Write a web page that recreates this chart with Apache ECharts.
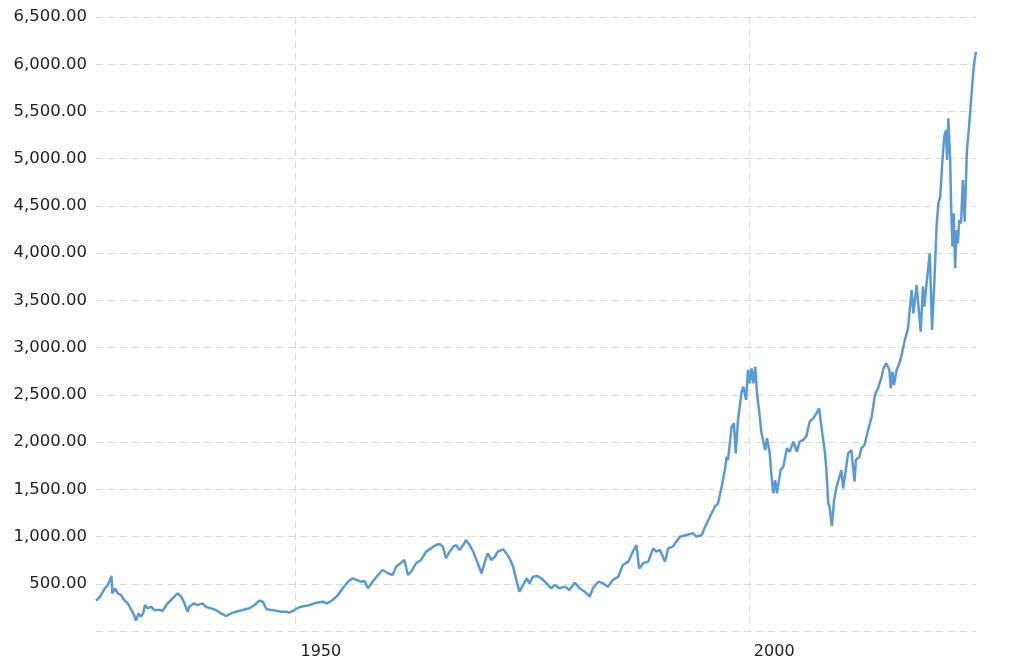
<!DOCTYPE html>
<html>
<head>
<meta charset="utf-8">
<script src="https://cdn.jsdelivr.net/npm/echarts@6/dist/echarts.min.js"></script>
<style>
  html, body { margin: 0; padding: 0; background: #fff; }
  #chart { width: 1024px; height: 671px; }
</style>
</head>
<body>
<div id="chart"></div>
<script>
// Decimal years of each reading
const years = [
  1928.0, 1928.4, 1928.9, 1929.3, 1929.55, 1929.7, 1929.8, 1930.1, 1930.4, 1930.75,
  1931.1, 1931.5, 1931.9, 1932.2, 1932.4, 1932.7, 1932.95, 1933.2, 1933.4, 1933.7,
  1934.1, 1934.4, 1935.0, 1935.35, 1935.9, 1936.45, 1937.0, 1937.4, 1937.75, 1938.1,
  1938.3, 1938.8, 1939.2, 1939.75, 1940.1, 1940.7, 1941.2, 1941.8, 1942.35, 1942.9,
  1943.45, 1944.2, 1944.9, 1945.5, 1946.0, 1946.4, 1946.8, 1947.3, 1947.9, 1948.4,
  1949.0, 1949.3, 1949.9, 1950.4, 1951.0, 1951.6, 1952.3, 1953.0, 1953.5, 1954.1,
  1954.7, 1955.2, 1955.8, 1956.3, 1956.7, 1957.25, 1957.6, 1958.0, 1958.5, 1959.1,
  1959.6, 1960.2, 1960.7, 1961.1, 1961.65, 1962.0, 1962.4, 1962.75, 1963.3, 1963.85,
  1964.4, 1964.95, 1965.5, 1965.9, 1966.25, 1966.6, 1967.0, 1967.4, 1967.7, 1968.1,
  1968.5, 1968.8, 1969.2, 1969.6, 1970.1, 1970.5, 1971.0, 1971.2, 1971.6, 1972.0,
  1972.3, 1972.9, 1973.25, 1973.6, 1974.0, 1974.35, 1974.7, 1975.1, 1975.5, 1975.8,
  1976.2, 1976.7, 1977.1, 1977.7, 1978.2, 1978.6, 1979.1, 1979.7, 1980.2, 1980.8,
  1981.35, 1981.9, 1982.45, 1982.8, 1983.4, 1983.9, 1984.45, 1985.0, 1985.6, 1986.1,
  1986.7, 1987.2, 1987.6, 1987.9, 1988.35, 1988.9, 1989.45, 1989.8, 1990.2, 1990.75,
  1991.1, 1991.6, 1992.0, 1992.4, 1993.1, 1993.85, 1994.2, 1994.8, 1995.1, 1995.7,
  1996.25, 1996.6, 1997.0, 1997.35, 1997.55, 1997.7, 1998.1, 1998.35, 1998.55, 1998.8,
  1999.2, 1999.4, 1999.7, 1999.9, 2000.1, 2000.3, 2000.5, 2000.7, 2000.9, 2001.2,
  2001.4, 2001.8, 2002.0, 2002.3, 2002.5, 2002.7, 2002.9, 2003.1, 2003.5, 2003.8,
  2004.2, 2004.5, 2004.9, 2005.3, 2005.6, 2006.0, 2006.35, 2006.7, 2007.1, 2007.45,
  2007.75, 2008.0, 2008.4, 2008.55, 2008.75, 2008.9, 2009.15, 2009.4, 2009.7, 2010.05,
  2010.2, 2010.4, 2010.95, 2011.3, 2011.65, 2011.8, 2012.2, 2012.4, 2012.75, 2013.15,
  2013.55, 2013.9, 2014.3, 2014.65, 2014.85, 2015.15, 2015.5, 2015.65, 2015.85, 2016.0,
  2016.3, 2016.6, 2016.8, 2017.2, 2017.55, 2017.95, 2018.15, 2018.5, 2018.7, 2018.95,
  2019.2, 2019.35, 2019.6, 2019.95, 2020.2, 2020.45, 2020.7, 2020.9, 2021.1, 2021.35,
  2021.55, 2021.75, 2021.85, 2022.0, 2022.2, 2022.3, 2022.45, 2022.6, 2022.75, 2022.9,
  2023.05, 2023.2, 2023.4, 2023.6, 2023.8, 2024.05, 2024.25, 2024.45, 2024.65, 2024.8,
  2024.95, 2025.05
];

// Inflation-adjusted index level at each reading
const values = [
  321, 357, 441, 487, 540, 582, 399, 452, 399, 381,
  328, 293, 222, 169, 110, 187, 151, 187, 275, 240,
  257, 222, 222, 215, 293, 346, 399, 363, 293, 204,
  257, 293, 275, 293, 257, 240, 222, 187, 159, 187,
  204, 222, 240, 275, 321, 310, 230, 222, 215, 204,
  204, 194, 222, 251, 265, 275, 300, 310, 293, 328,
  381, 452, 522, 558, 540, 522, 530, 452, 522, 593,
  646, 611, 593, 681, 723, 752, 593, 628, 717, 752,
  840, 875, 910, 921, 893, 770, 840, 893, 910, 858,
  910, 963, 910, 840, 717, 611, 770, 822, 752, 787,
  840, 865, 822, 770, 681, 540, 416, 487, 558, 505,
  575, 582, 558, 505, 452, 487, 452, 470, 434, 511,
  452, 416, 363, 452, 522, 505, 469, 540, 575, 699,
  734, 840, 910, 663, 717, 734, 875, 840, 858, 734,
  875, 893, 946, 998, 1016, 1034, 998, 1016, 1087, 1210,
  1316, 1352, 1528, 1704, 1845, 1810, 2163, 2198, 1881, 2234,
  2533, 2586, 2445, 2763, 2622, 2781, 2622, 2798, 2516, 2269,
  2093, 1916, 2040, 1881, 1634, 1457, 1598, 1457, 1704, 1739,
  1934, 1898, 2004, 1898, 2004, 2022, 2064, 2216, 2251, 2304,
  2357, 2163, 1881, 1704, 1352, 1316, 1110, 1387, 1540, 1651,
  1704, 1510, 1881, 1916, 1581, 1810, 1845, 1934, 1969, 2128,
  2269, 2498, 2586, 2692, 2781, 2834, 2763, 2569, 2745, 2604,
  2763, 2834, 2904, 3080, 3204, 3610, 3363, 3663, 3645, 3168,
  3645, 3433, 3681, 3998, 3186, 3681, 4280, 4527, 4598, 4986,
  5233, 5303, 4986, 5427, 4986, 4527, 4068, 4422, 3840, 4245,
  4104, 4351, 4316, 4774, 4333, 5092, 5303, 5550, 5797, 5974,
  6080, 6133
];

const xTickYears = [1950, 2000];
const yMax = 6500;
const yStep = 500;

function fmtNum(v) {
  const s = Math.round(v).toString().replace(/\B(?=(\d{3})+(?!\d))/g, ',');
  return s + '.00';
}

const points = years.map((y, i) => [y, values[i]]);
const gridLine = { color: '#dcdcdc', width: 1, type: [7, 5] };

const chart = echarts.init(document.getElementById('chart'), null, { renderer: 'canvas' });
chart.setOption({
  animation: false,
  backgroundColor: '#ffffff',
  grid: { left: 96, right: 48, top: 17, bottom: 40, containLabel: false },
  xAxis: {
    type: 'value',
    min: 'dataMin',
    max: 'dataMax',
    axisLine: { show: false },
    axisTick: { show: false, customValues: xTickYears },
    axisLabel: {
      customValues: xTickYears,
      align: 'left',
      padding: [0, 0, 0, 5],
      margin: 13,
      color: '#222',
      fontFamily: 'DejaVu Sans',
      fontSize: 16,
      formatter: (v) => String(Math.round(v))
    },
    splitLine: { show: true, lineStyle: gridLine }
  },
  yAxis: {
    type: 'value',
    min: 0,
    max: yMax,
    interval: yStep,
    axisLine: { show: false },
    axisTick: { show: false },
    axisLabel: {
      margin: 9,
      color: '#222',
      fontFamily: 'DejaVu Sans',
      fontSize: 16.5,
      formatter: (v) => (v === 0 ? '' : fmtNum(v))
    },
    splitLine: { show: true, lineStyle: gridLine }
  },
  series: [{
    type: 'line',
    data: points,
    showSymbol: false,
    symbol: 'none',
    lineStyle: { color: '#5b9bd5', width: 2.5 },
    itemStyle: { color: '#5b9bd5' }
  }]
});
</script>
</body>
</html>
